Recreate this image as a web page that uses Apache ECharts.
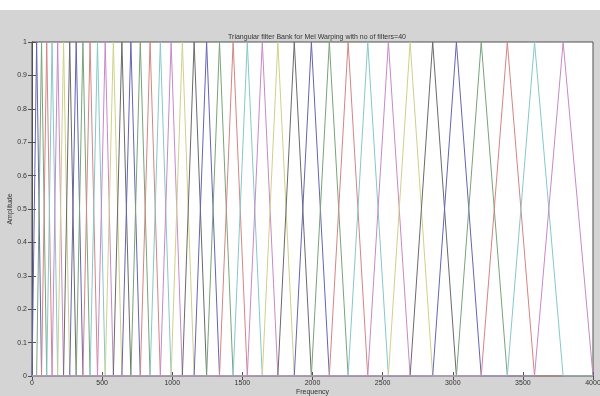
<!DOCTYPE html>
<html>
<head>
<meta charset="utf-8">
<script src="https://cdn.jsdelivr.net/npm/echarts@6/dist/echarts.min.js"></script>
<style>
html,body{margin:0;padding:0;background:#fff;}
#chart{width:600px;height:396px;}
</style>
</head>
<body>
<div id="chart"></div>
<script>
// Filter edge/centre frequencies (Hz): filter k rises from edges[k-1], peaks at edges[k], falls to edges[k+1]
const edges = [0, 33, 68, 105, 143, 183, 225, 269, 315, 363, 414, 467, 522, 580, 641, 705, 772, 842, 915, 992, 1072, 1156, 1245, 1337, 1434, 1535, 1642, 1753, 1870, 1992, 2120, 2254, 2394, 2541, 2696, 2857, 3026, 3203, 3389, 3583, 3787, 4000];
const peakAmp = 1;
const freqRange = [0, 4000];
const xTicks = [0, 500, 1000, 1500, 2000, 2500, 3000, 3500, 4000];
const yTicks = [0, 0.1, 0.2, 0.3, 0.4, 0.5, 0.6, 0.7, 0.8, 0.9, 1];
const colorOrder = ['#6464b4', '#78a478', '#d68484', '#86c8c8', '#c888c8', '#d0d08a', '#6a6a6a'];
const titleText = 'Triangular filter Bank for Mel Warping with no of filters=40';

const series = [];
for (let k = 1; k < edges.length - 1; k++) {
  series.push({
    type: 'line',
    name: 'Filter ' + k,
    showSymbol: false,
    symbol: 'none',
    lineStyle: { width: 1, color: colorOrder[(k - 1) % colorOrder.length] },
    data: [[freqRange[0], 0], [edges[k - 1], 0], [edges[k], peakAmp], [edges[k + 1], 0], [freqRange[1], 0]]
  });
}

const font = { fontFamily: 'Liberation Sans', fontSize: 7, color: '#333' };
const chart = echarts.init(document.getElementById('chart'), null, { renderer: 'canvas' });
chart.setOption({
  animation: false,
  backgroundColor: '#d4d4d4',
  graphic: [{ type: 'rect', left: 0, top: 0, shape: { width: 600, height: 10 }, style: { fill: '#ffffff' }, z: -1 }],
  title: { text: titleText, left: 312, top: 29, textAlign: 'center', textStyle: Object.assign({ fontWeight: 'normal' }, font) },
  grid: { left: 32, right: 7, top: 42, bottom: 20, containLabel: false, outerBoundsMode: 'none', show: true, backgroundColor: '#ffffff', borderColor: '#505050', borderWidth: 1 },
  xAxis: [{
    type: 'value', min: 0, max: 4000, interval: 500,
    name: 'Frequency', nameLocation: 'middle', nameGap: 13, nameMoveOverlap: false, nameTextStyle: font,
    axisLine: { show: true, lineStyle: { color: '#505050' } },
    axisTick: { inside: true, length: 4, lineStyle: { color: '#505050' } },
    axisLabel: Object.assign({ margin: 4, formatter: v => String(v) }, font),
    splitLine: { show: false }
  }, {
    type: 'value', position: 'top', min: 0, max: 4000, interval: 500,
    axisLine: { show: true, lineStyle: { color: '#505050' } },
    axisTick: { inside: true, length: 4, lineStyle: { color: '#505050' } },
    axisLabel: { show: false }, splitLine: { show: false }
  }],
  yAxis: [{
    type: 'value', min: 0, max: 1, interval: 0.1,
    name: 'Amplitude', nameLocation: 'middle', nameGap: 18, nameMoveOverlap: false, nameTextStyle: font,
    axisLine: { show: true, lineStyle: { color: '#505050' } },
    axisTick: { inside: true, length: 4, lineStyle: { color: '#505050' } },
    axisLabel: Object.assign({ margin: 5, formatter: v => String(+v.toFixed(1)) }, font),
    splitLine: { show: false }
  }, {
    type: 'value', position: 'right', min: 0, max: 1, interval: 0.1,
    axisLine: { show: true, lineStyle: { color: '#505050' } },
    axisTick: { inside: true, length: 4, lineStyle: { color: '#505050' } },
    axisLabel: { show: false }, splitLine: { show: false }
  }],
  series: series
});
</script>
</body>
</html>
